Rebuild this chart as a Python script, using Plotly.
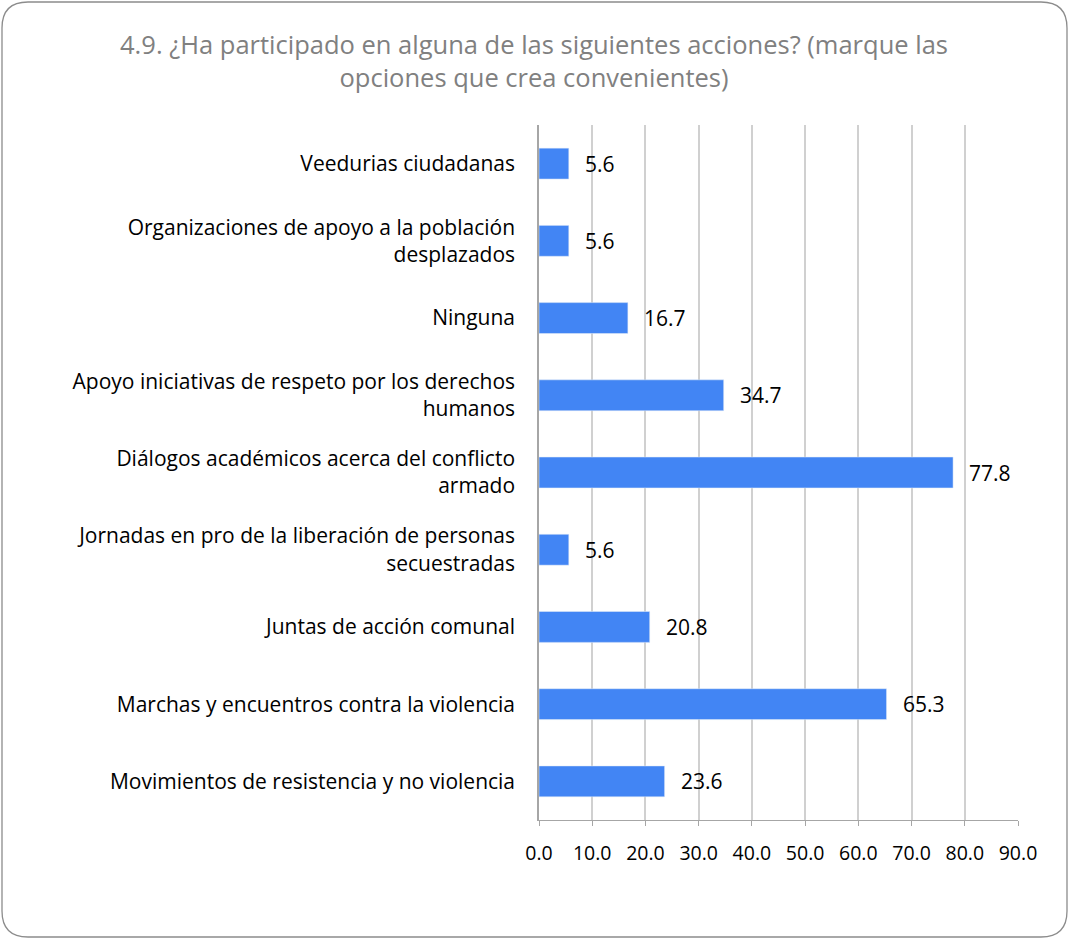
import plotly.graph_objects as go

# categories top to bottom as shown in the chart
categories = [
    "Veedurias ciudadanas",
    "Organizaciones de apoyo a la población<br>desplazados",
    "Ninguna",
    "Apoyo iniciativas de respeto por los derechos<br>humanos",
    "Diálogos académicos acerca del conflicto<br>armado",
    "Jornadas en pro de la liberación de personas<br>secuestradas",
    "Juntas de acción comunal",
    "Marchas y encuentros contra la violencia",
    "Movimientos de resistencia y no violencia",
]
values = [5.6, 5.6, 16.7, 34.7, 77.8, 5.6, 20.8, 65.3, 23.6]
tick_vals = [0, 10, 20, 30, 40, 50, 60, 70, 80, 90]

title = ("4.9. ¿Ha participado en alguna de las siguientes acciones? (marque las<br>"
         "opciones que crea convenientes)")

FONT = "Open Sans"
W, H = 1069, 939
L, R, T, B = 539, 51, 125, 119

fig = go.Figure()
fig.add_trace(go.Bar(
    x=values, y=categories, orientation="h",
    marker_color="#4285F4", width=0.4,
    hoverinfo="x+y",
))

for v, c in zip(values, categories):
    fig.add_annotation(x=v, y=c, text=f"{v:.1f}", showarrow=False,
                       xanchor="left", xshift=14,
                       font=dict(family=FONT, size=21, color="#000000"))

# rounded chart border, converted from pixel positions into paper coords
pw, ph = W - L - R, H - T - B
def px(x): return (x - L) / pw
def py(y): return (H - B - y) / ph
r = 26
x0, y0, x1, y1 = 2, 2, 1067, 937
path = (f"M {px(x0 + r)},{py(y0)} L {px(x1 - r)},{py(y0)} "
        f"Q {px(x1)},{py(y0)} {px(x1)},{py(y0 + r)} "
        f"L {px(x1)},{py(y1 - r)} Q {px(x1)},{py(y1)} {px(x1 - r)},{py(y1)} "
        f"L {px(x0 + r)},{py(y1)} Q {px(x0)},{py(y1)} {px(x0)},{py(y1 - r)} "
        f"L {px(x0)},{py(y0 + r)} Q {px(x0)},{py(y0)} {px(x0 + r)},{py(y0)} Z")
fig.add_shape(type="path", path=path, xref="paper", yref="paper",
              line=dict(color="#8c8c8c", width=1.3), layer="below")

fig.update_layout(
    width=W, height=H,
    margin=dict(l=L, r=R, t=T, b=B),
    paper_bgcolor="white", plot_bgcolor="white",
    showlegend=False,
    title=dict(text=title, x=534 / W, xref="container", xanchor="center",
               y=1 - 54 / H, yref="container", yanchor="middle",
               font=dict(family=FONT, size=25.5, color="#808080")),
    font=dict(family=FONT, size=20, color="#000000"),
    bargap=0.6,
)

fig.update_xaxes(
    range=[0, 90], tickvals=tick_vals, tickformat=".1f",
    showgrid=True, gridcolor="#d0d0d0", gridwidth=1.5,
    zeroline=False,
    showline=True, linecolor="#a6a6a6", linewidth=1,
    ticks="outside", ticklen=5, tickcolor="#a6a6a6",
    tickfont=dict(family=FONT, size=19.5, color="#000000"),
    ticklabelstandoff=11,
)
fig.update_yaxes(
    autorange="reversed",
    showline=True, linecolor="#a6a6a6", linewidth=1.5,
    ticks="", ticklabelstandoff=18,
    tickfont=dict(family=FONT, size=21, color="#000000"),
)

# page body has a default margin; drop it so the chart sits at the window edge
fig.write_html("out.html", config={"displayModeBar": False},
               post_script="document.body.style.margin='0';")
